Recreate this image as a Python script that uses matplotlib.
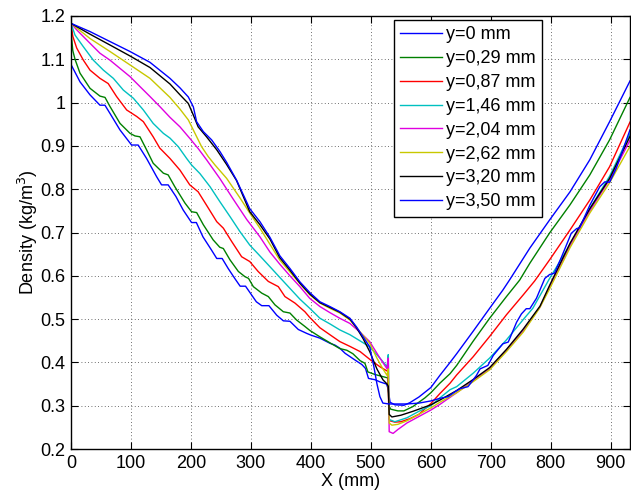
import matplotlib
matplotlib.use("Agg")
import matplotlib.pyplot as plt

plt.rcParams['font.family'] = ['Liberation Sans', 'DejaVu Sans']

labels = ["y=0 mm", "y=0,29 mm", "y=0,87 mm", "y=1,46 mm",
          "y=2,04 mm", "y=2,62 mm", "y=3,20 mm", "y=3,50 mm"]
colors = ["#0000ff", "#008000", "#ff0000", "#00c0c0",
          "#e000e0", "#c8c800", "#000000", "#0000ff"]

x_y000 = [0, 0, 15, 31.6, 48.3, 56.6, 65, 81.6, 101, 112, 126, 142.7, 151, 162, 175, 187, 201, 209, 220, 234, 243, 252, 262, 273, 282, 291, 301, 309, 318, 330, 343, 354, 365, 379, 393, 400, 415, 432, 440, 448, 457, 473, 485, 491, 496, 507, 515, 526, 528.5, 532, 540, 555, 565, 580, 600, 615, 632, 643, 670, 698, 720, 731, 765, 798, 832, 865, 898, 932]
d_y000 = [1.185, 1.088, 1.048, 1.018, 0.994, 0.994, 0.975, 0.937, 0.902, 0.902, 0.871, 0.829, 0.810, 0.810, 0.783, 0.752, 0.723, 0.723, 0.690, 0.660, 0.640, 0.640, 0.617, 0.594, 0.576, 0.576, 0.556, 0.540, 0.531, 0.531, 0.509, 0.496, 0.495, 0.476, 0.467, 0.463, 0.456, 0.444, 0.440, 0.433, 0.421, 0.406, 0.395, 0.386, 0.363, 0.360, 0.355, 0.350, 0.340, 0.308, 0.302, 0.301, 0.307, 0.320, 0.342, 0.370, 0.400, 0.420, 0.471, 0.525, 0.567, 0.590, 0.664, 0.729, 0.794, 0.868, 0.956, 1.050]

x_y029 = [0, 1, 3, 6.7, 15, 31.7, 48.3, 56.7, 65, 81.7, 98.4, 106.7, 115, 126, 137, 154, 162, 173, 190, 201, 209.5, 220.6, 237, 248, 254, 265, 279, 290, 296, 304, 318, 329, 340, 354, 365, 376, 390, 398, 415, 432, 448, 460, 470, 482, 490, 495, 507, 528.5, 530, 533, 545, 555, 570, 590, 600, 615, 632, 643, 670, 698, 726, 748, 765, 798, 832, 865, 898, 932]
d_y029 = [1.183, 1.15, 1.12, 1.10, 1.068, 1.033, 1.015, 1.012, 0.991, 0.952, 0.929, 0.923, 0.921, 0.891, 0.860, 0.837, 0.833, 0.806, 0.768, 0.748, 0.746, 0.718, 0.683, 0.666, 0.663, 0.637, 0.610, 0.598, 0.594, 0.575, 0.560, 0.552, 0.533, 0.517, 0.514, 0.498, 0.483, 0.474, 0.459, 0.445, 0.432, 0.428, 0.420, 0.404, 0.398, 0.378, 0.372, 0.364, 0.300, 0.292, 0.288, 0.288, 0.298, 0.318, 0.330, 0.352, 0.374, 0.393, 0.448, 0.502, 0.552, 0.590, 0.629, 0.699, 0.764, 0.833, 0.914, 1.012]

x_y087 = [0, 3, 9.5, 20.6, 31.7, 48.3, 62, 76, 92.8, 109.5, 120.6, 137, 148, 165, 181.7, 198, 212, 226, 243, 254, 268, 284.5, 298, 312, 329, 345.6, 356.7, 373.4, 390, 398, 415, 431.6, 448.3, 465, 482, 500, 515, 528.5, 530, 532, 540, 550, 565, 580, 600, 615, 632, 643, 670.5, 698, 726, 754, 773, 798, 832, 865, 898, 932]
d_y087 = [1.183, 1.153, 1.126, 1.098, 1.075, 1.056, 1.044, 1.014, 0.983, 0.968, 0.956, 0.921, 0.895, 0.871, 0.844, 0.810, 0.794, 0.763, 0.725, 0.710, 0.679, 0.644, 0.633, 0.610, 0.587, 0.575, 0.552, 0.537, 0.517, 0.504, 0.480, 0.464, 0.448, 0.437, 0.425, 0.405, 0.390, 0.379, 0.270, 0.265, 0.262, 0.263, 0.270, 0.280, 0.305, 0.328, 0.352, 0.371, 0.413, 0.460, 0.510, 0.556, 0.588, 0.637, 0.706, 0.775, 0.852, 0.955]

x_y146 = [0, 6.7, 20.6, 37.2, 54, 70.6, 87.2, 104, 120.6, 137, 154, 165, 179, 192.8, 201, 215, 231.7, 248.3, 265, 281.7, 298, 315, 331.7, 348.3, 365, 381.7, 398, 415, 431.6, 448.3, 465, 481.6, 498, 515, 527, 529, 530.5, 540, 560, 580, 600, 615, 632, 643, 670.5, 698, 726, 754, 770, 798, 832, 865, 898, 932]
d_y146 = [1.183, 1.156, 1.129, 1.098, 1.075, 1.056, 1.029, 1.010, 0.983, 0.952, 0.929, 0.918, 0.898, 0.871, 0.856, 0.836, 0.806, 0.771, 0.737, 0.702, 0.671, 0.646, 0.621, 0.596, 0.571, 0.546, 0.525, 0.502, 0.489, 0.475, 0.464, 0.450, 0.436, 0.410, 0.390, 0.418, 0.268, 0.263, 0.272, 0.287, 0.300, 0.318, 0.337, 0.344, 0.375, 0.410, 0.452, 0.499, 0.525, 0.594, 0.672, 0.755, 0.830, 0.928]

x_y204 = [0, 9.5, 31.7, 48.3, 65, 81.7, 98.4, 115, 131.7, 148, 165, 181.7, 198.3, 212, 226, 248, 270, 293, 315, 331.6, 348, 365, 381.6, 398, 415, 431.6, 448, 465, 481.6, 498, 515, 527, 529, 530.5, 537, 545, 560, 580, 600, 615, 643, 670, 698, 726, 754, 782, 798, 832, 865, 898, 932]
d_y204 = [1.183, 1.168, 1.137, 1.114, 1.098, 1.079, 1.060, 1.037, 1.014, 0.991, 0.966, 0.944, 0.917, 0.894, 0.868, 0.825, 0.778, 0.730, 0.690, 0.655, 0.627, 0.600, 0.575, 0.548, 0.529, 0.515, 0.502, 0.490, 0.470, 0.448, 0.410, 0.385, 0.410, 0.240, 0.236, 0.245, 0.260, 0.275, 0.290, 0.303, 0.330, 0.357, 0.385, 0.428, 0.473, 0.528, 0.575, 0.670, 0.750, 0.822, 0.913]

x_y262 = [0, 31.7, 65, 98.4, 131.7, 165, 181.7, 195.6, 206.7, 217.8, 229, 240, 259.5, 281.7, 298, 315, 331.6, 348.3, 365, 381.6, 398.3, 415, 431.6, 448.3, 465, 481.6, 498, 510, 520, 527, 529, 530.5, 535, 545, 560, 580, 600, 615, 643, 670, 698, 726, 754, 781, 798, 832, 865, 898, 932]
d_y262 = [1.183, 1.148, 1.118, 1.087, 1.056, 1.012, 0.985, 0.960, 0.929, 0.898, 0.875, 0.856, 0.825, 0.780, 0.745, 0.710, 0.673, 0.636, 0.609, 0.582, 0.556, 0.537, 0.525, 0.514, 0.498, 0.471, 0.444, 0.410, 0.385, 0.370, 0.385, 0.260, 0.255, 0.257, 0.265, 0.280, 0.295, 0.308, 0.330, 0.355, 0.383, 0.425, 0.470, 0.525, 0.570, 0.665, 0.745, 0.815, 0.899]

x_y320 = [0, 31.7, 65, 98, 131.7, 165, 181.7, 195.6, 204, 212, 226, 243, 259.5, 276, 298, 315, 331.6, 348, 365, 381.6, 398, 415, 431.6, 448, 465, 476, 487, 498, 510, 520, 527, 529, 530.5, 535, 550, 570, 600, 615, 643, 670, 698, 726, 754, 782, 798, 832, 865, 898, 932]
d_y320 = [1.183, 1.158, 1.133, 1.108, 1.081, 1.043, 1.018, 0.998, 0.971, 0.944, 0.921, 0.891, 0.857, 0.820, 0.748, 0.718, 0.685, 0.642, 0.613, 0.583, 0.558, 0.538, 0.527, 0.516, 0.500, 0.480, 0.455, 0.425, 0.385, 0.360, 0.350, 0.345, 0.280, 0.274, 0.278, 0.287, 0.302, 0.313, 0.335, 0.360, 0.388, 0.430, 0.477, 0.530, 0.578, 0.675, 0.755, 0.825, 0.922]

x_y350 = [0, 31.7, 65, 98.4, 131.7, 165, 181.7, 195.6, 204, 209.4, 220.6, 234.4, 248.3, 259.5, 276, 298, 315, 331.6, 348.3, 365, 381.6, 398.3, 415, 431.6, 448.3, 465, 476, 487, 498, 505, 510, 515, 520, 530, 560, 580, 600, 615, 629, 640, 648, 662, 676, 682, 695, 704, 720, 729, 743, 751, 759, 765, 776, 790, 798, 806, 818, 834, 843, 848, 865, 881.7, 890, 898, 909, 932]
d_y350 = [1.183, 1.164, 1.141, 1.118, 1.093, 1.056, 1.034, 1.013, 0.990, 0.956, 0.933, 0.914, 0.887, 0.862, 0.821, 0.755, 0.725, 0.689, 0.646, 0.617, 0.586, 0.561, 0.540, 0.529, 0.517, 0.502, 0.482, 0.459, 0.436, 0.390, 0.351, 0.321, 0.306, 0.304, 0.304, 0.306, 0.311, 0.317, 0.321, 0.332, 0.339, 0.344, 0.370, 0.385, 0.393, 0.416, 0.443, 0.447, 0.493, 0.512, 0.524, 0.524, 0.548, 0.594, 0.603, 0.606, 0.644, 0.698, 0.709, 0.711, 0.763, 0.806, 0.817, 0.816, 0.848, 0.937]

xs = [x_y000, x_y029, x_y087, x_y146, x_y204, x_y262, x_y320, x_y350]
ds = [d_y000, d_y029, d_y087, d_y146, d_y204, d_y262, d_y320, d_y350]

fig = plt.figure(figsize=(6.31, 4.97), dpi=100)
ax = fig.add_axes([71/631, 48/497, 559/631, 433/497])

for x, d, c, lab in zip(xs, ds, colors, labels):
    ax.plot(x, d, color=c, lw=1.0, label=lab, solid_joinstyle='round')

ax.set_xlim(0, 932)
ax.set_ylim(0.2, 1.2)
ax.set_xticks(range(0, 901, 100))
ax.set_yticks([0.2, 0.3, 0.4, 0.5, 0.6, 0.7, 0.8, 0.9, 1.0, 1.1, 1.2])
ax.set_yticklabels(["0.2", "0.3", "0.4", "0.5", "0.6", "0.7", "0.8", "0.9", "1", "1.1", "1.2"])
ax.tick_params(direction='in', top=True, right=True, length=5, width=0.8,
               labelsize=13, pad=4)
ax.grid(True, color='0.25', linestyle=(0, (1, 3)), linewidth=0.6)
for s in ax.spines.values():
    s.set_linewidth(1.0)

ax.set_xlabel("X (mm)", fontsize=13, labelpad=1)
ax.set_ylabel("Density (kg/m$^3$)", fontsize=13, labelpad=0)

leg = ax.legend(loc='upper right', bbox_to_anchor=((542 - 71) / 559, 1 - 4 / 433),
                borderaxespad=0, fancybox=False, framealpha=1, edgecolor='black',
                fontsize=13, handlelength=2.3, handletextpad=0.25,
                labelspacing=0.38, borderpad=0.35)
leg.get_frame().set_linewidth(1.0)

fig.savefig("out.png", dpi=100)
